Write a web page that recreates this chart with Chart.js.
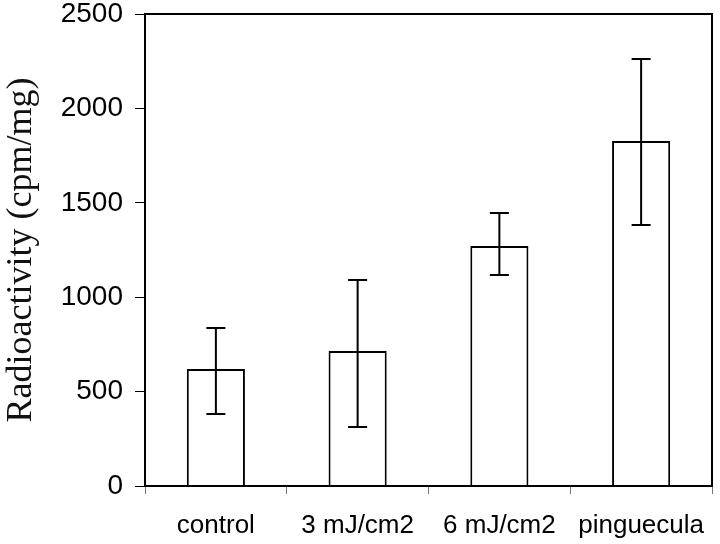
<!DOCTYPE html>
<html>
<head>
<meta charset="utf-8">
<script src="https://cdn.jsdelivr.net/npm/chart.js@4/dist/chart.umd.min.js"></script>
<style>
  html, body { margin: 0; padding: 0; background: #ffffff; }
  canvas { display: block; }
</style>
</head>
<body>
<canvas id="c" width="720" height="544"></canvas>
<script>
// ---- data ----
const categories = ['control', '3 mJ/cm2', '6 mJ/cm2', 'pinguecula'];
const meanValues = [620, 715, 1271, 1827];
const errorUpper = [837, 1091, 1446, 2262];
const errorLower = [381, 312, 1118, 1382];
const yMin = 0;
const yMax = 2500;
const yStep = 500;
const yTitle = 'Radioactivity (cpm/mg)';

// ---- error bar plugin (uses the chart's own scales) ----
const errorBars = {
  id: 'errorBars',
  afterDatasetsDraw(chart) {
    const ctx = chart.ctx;
    const meta = chart.getDatasetMeta(0);
    const ys = chart.scales.y;
    ctx.save();
    ctx.strokeStyle = '#000';
    ctx.lineWidth = 2;
    meta.data.forEach((bar, i) => {
      const x = bar.x;
      const yHi = ys.getPixelForValue(errorUpper[i]);
      const yLo = ys.getPixelForValue(errorLower[i]);
      const cap = 9.5;
      ctx.beginPath();
      ctx.moveTo(x, yHi); ctx.lineTo(x, yLo);
      ctx.moveTo(x - cap, yHi); ctx.lineTo(x + cap, yHi);
      ctx.moveTo(x - cap, yLo); ctx.lineTo(x + cap, yLo);
      ctx.stroke();
    });
    ctx.restore();
  }
};

// ---- frame around plot area ----
const frame = {
  id: 'frame',
  afterDraw(chart) {
    const a = chart.chartArea;
    const ctx = chart.ctx;
    ctx.save();
    ctx.strokeStyle = '#000';
    ctx.lineWidth = 2;
    ctx.strokeRect(a.left, a.top, a.right - a.left, a.bottom - a.top);
    ctx.restore();
  }
};

new Chart(document.getElementById('c'), {
  type: 'bar',
  data: {
    labels: categories,
    datasets: [{
      data: meanValues,
      backgroundColor: '#ffffff',
      borderColor: '#000000',
      borderWidth: 2,
      barPercentage: 0.41,
      categoryPercentage: 1.0
    }]
  },
  options: {
    responsive: false,
    devicePixelRatio: 1,
    animation: false,
    layout: { padding: { top: 14, right: 8, left: 0, bottom: 0 } },
    plugins: {
      legend: { display: false },
      tooltip: { enabled: false }
    },
    scales: {
      x: {
        grid: {
          display: true,
          drawOnChartArea: false,
          drawTicks: true,
          tickLength: 8,
          color: '#777',
          offset: true
        },
        border: { display: true, color: '#000', width: 2 },
        ticks: {
          color: '#000',
          padding: 0,
          maxRotation: 0,
          font: { family: '"Liberation Sans", Arial, sans-serif', size: 26, lineHeight: 2.46 }
        },
        afterFit(scale) { scale.height = 58; }
      },
      y: {
        min: yMin,
        max: yMax,
        ticks: {
          stepSize: yStep,
          color: '#000',
          padding: 12,
          callback: (v) => String(v),
          font: { family: '"Liberation Sans", Arial, sans-serif', size: 28, lineHeight: 0.01 }
        },
        grid: {
          display: true,
          drawOnChartArea: false,
          drawTicks: true,
          tickLength: 10,
          color: '#000'
        },
        border: { display: true, color: '#000', width: 2 },
        title: {
          display: true,
          text: yTitle,
          color: '#111',
          padding: { top: 0, bottom: 0 },
          font: { family: '"Liberation Serif", "Times New Roman", serif', size: 36, lineHeight: 1.2 }
        },
        afterFit(scale) { scale.width = 145; }
      }
    }
  },
  plugins: [errorBars, frame]
});
</script>
</body>
</html>
